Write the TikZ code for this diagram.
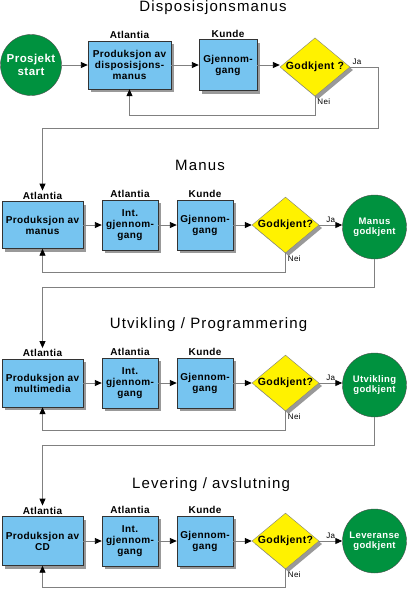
\documentclass[tikz,border=0pt]{standalone}
\usepackage{fontspec}
\setmainfont[LetterSpace=4]{Liberation Sans}
\newfontfamily\titlefont[LetterSpace=7.5]{Liberation Sans}
\usetikzlibrary{positioning}
\usetikzlibrary{shapes.geometric}
\usetikzlibrary{shadows}
\usetikzlibrary{arrows.meta}
\definecolor{boxblue}{RGB}{118,196,240}
\definecolor{okgreen}{RGB}{0,146,63}

\begin{document}
\begin{tikzpicture}
      [ x=1pt, y=-1pt
        , node distance=1pt
        , box/.style={rectangle, draw=black!80, fill=boxblue, align=center, inner sep=0pt,
            font=\fontsize{10}{11}\selectfont\bfseries,
            drop shadow={shadow xshift=3pt, shadow yshift=-3pt, fill=black!40, opacity=1}}
        , ask/.style={diamond, aspect=1.2, draw=black!50, fill=yellow, inner sep=0pt,
            minimum width=66pt, minimum height=55pt, font=\fontsize{10.5}{12}\selectfont\bfseries,
            drop shadow={shadow xshift=3pt, shadow yshift=-3pt, fill=black!40, opacity=1}}
        , goal/.style={circle, draw=black!70, fill=okgreen, text=white, inner sep=0pt, align=center,
            minimum size=64pt, font=\fontsize{9.5}{10.5}\selectfont\bfseries}
        , who/.style={font=\fontsize{10}{11}\selectfont\bfseries, inner sep=1pt}
        , head/.style={font=\titlefont\fontsize{15}{17}\selectfont}
        , ans/.style={font=\fontsize{8}{9}\selectfont, inner sep=2pt}
        , flow/.style={draw=gray, line width=0.9pt, -{Triangle[length=7pt,width=6pt,black]}}
      ]
      \useasboundingbox (0,0) rectangle (407,590);

      \node (t1) [head] at (213,8) {Disposisjonsmanus};
      \node (start) [goal, minimum size=61pt, font=\fontsize{11.5}{12.5}\selectfont\bfseries] at (31,65) {Prosjekt\\start};
      \node (prod1) [box, minimum width=83pt, minimum height=48pt] at (129.5,65) {Produksjon av\\disposisjons-\\manus};
      \node (rev1) [box, minimum width=58pt, minimum height=51pt] at (228,65) {Gjennom-\\gang};
      \node (ok1) [ask] at (315,67) {Godkjent ?};
      \node (a1) [who, above=of prod1] {Atlantia};
      \node (k1) [who, above=of rev1] {Kunde};
      \coordinate (j1) at (378,128);

      \draw[flow] (start) -- (prod1);
      \draw[flow] (prod1) -- (rev1);
      \draw[flow] (rev1) -- (ok1.west |- rev1);
      \draw[flow] (ok1.south) node[ans, below right] {Nei} -- ++(0,19) -| (prod1.south);

      \node (t2) [head] at (200,165) {Manus};
      \node (prod2) [box, minimum width=81pt, minimum height=47pt] at (42.5,225) {Produksjon av\\manus};
      \node (int2) [box, minimum width=56pt, minimum height=50pt] at (130,225) {Int.\\gjennom-\\gang};
      \node (rev2) [box, minimum width=56pt, minimum height=50pt] at (205,225) {Gjennom-\\gang};
      \node (ok2) [ask] at (285.5,225) {Godkjent?};
      \node (done2) [goal] at (374.5,227) {Manus\\godkjent};
      \node (a2) [who, above=of prod2] {Atlantia};
      \node (b2) [who, above=of int2] {Atlantia};
      \node (k2) [who, above=of rev2] {Kunde};
      \coordinate (j2) at (374.5,287);

      \draw[flow] (ok1.east) node[ans, above right] {Ja} -| (j1) -| (a2.north);
      \draw[flow] (prod2) -- (int2);
      \draw[flow] (int2) -- (rev2);
      \draw[flow] (rev2) -- (ok2);
      \draw[flow] (ok2) -- node[ans, above] {Ja} (done2.west |- ok2);
      \draw[flow] (ok2.south) node[ans, below right] {Nei} -- ++(0,19) -| (prod2.south);

      \node (t3) [head] at (208.5,325) {Utvikling / Programmering};
      \node (prod3) [box, minimum width=81pt, minimum height=48pt] at (42.5,383) {Produksjon av\\multimedia};
      \node (int3) [box, minimum width=56pt, minimum height=50pt] at (130,383) {Int.\\gjennom-\\gang};
      \node (rev3) [box, minimum width=56pt, minimum height=50pt] at (205,383) {Gjennom-\\gang};
      \node (ok3) [ask] at (285.5,383) {Godkjent?};
      \node (done3) [goal] at (374.5,385) {Utvikling\\godkjent};
      \node (a3) [who, above=of prod3] {Atlantia};
      \node (b3) [who, above=of int3] {Atlantia};
      \node (k3) [who, above=of rev3] {Kunde};
      \coordinate (j3) at (374.5,445);

      \draw[flow] (done2.south) -- (j2) -| (a3.north);
      \draw[flow] (prod3) -- (int3);
      \draw[flow] (int3) -- (rev3);
      \draw[flow] (rev3) -- (ok3);
      \draw[flow] (ok3) -- node[ans, above] {Ja} (done3.west |- ok3);
      \draw[flow] (ok3.south) node[ans, below right] {Nei} -- ++(0,19) -| (prod3.south);

      \node (t4) [head] at (211,485) {Levering / avslutning};
      \node (prod4) [box, minimum width=81pt, minimum height=49pt] at (42.5,541) {Produksjon av\\CD};
      \node (int4) [box, minimum width=56pt, minimum height=50pt] at (130,541) {Int.\\gjennom-\\gang};
      \node (rev4) [box, minimum width=56pt, minimum height=50pt] at (205,541) {Gjennom-\\gang};
      \node (ok4) [ask] at (285.5,541) {Godkjent?};
      \node (done4) [goal] at (374.5,541) {Leveranse\\godkjent};
      \node (a4) [who, above=of prod4] {Atlantia};
      \node (b4) [who, above=of int4] {Atlantia};
      \node (k4) [who, above=of rev4] {Kunde};

      \draw[flow] (done3.south) -- (j3) -| (a4.north);
      \draw[flow] (prod4) -- (int4);
      \draw[flow] (int4) -- (rev4);
      \draw[flow] (rev4) -- (ok4);
      \draw[flow] (ok4) -- node[ans, above] {Ja} (done4);
      \draw[flow] (ok4.south) node[ans, below right] {Nei} -- ++(0,18) -| (prod4.south);

    \end{tikzpicture}
\end{document}
